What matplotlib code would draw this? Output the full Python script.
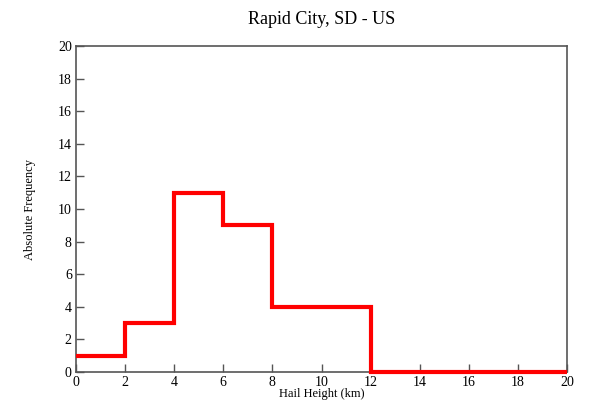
#!/usr/bin/env python3

# hail height histogram for Rapid City
#

import numpy as np
import matplotlib
matplotlib.use("Agg")
import matplotlib.pyplot as plt

plt.rcParams["font.family"] = ["Liberation Serif", "DejaVu Serif"]

bin_edges = [0, 2, 4, 6, 8, 10, 12, 14, 16, 18, 20]
counts = [1, 3, 11, 9, 4, 4, 0, 0, 0, 0]
x_ticks = list(range(0, 21, 2))
y_ticks = list(range(0, 21, 2))

fig = plt.figure(figsize=(5.89, 4.04), dpi=100)
ax = fig.add_axes([76 / 589, 1 - 372 / 404, (567 - 76) / 589, (372 - 46) / 404])

ax.stairs(counts, bin_edges, baseline=None, color="red", linewidth=3,
          clip_on=False, zorder=5)

ax.set_xlim(0, 20)
ax.set_ylim(0, 20)
ax.set_xticks(x_ticks)
ax.set_yticks(y_ticks)
ax.tick_params(direction="in", length=6, width=1, color="#555555",
               labelsize=10, top=False, right=False, pad=3)
for s in ax.spines.values():
    s.set_color("#555555")
    s.set_linewidth(1.2)

ax.set_title("Rapid City, SD - US", fontsize=13, pad=16)
ax.set_xlabel("Hail Height (km)", fontsize=9, labelpad=-1)
ax.set_ylabel("Absolute Frequency", fontsize=9, labelpad=16)

fig.savefig("out.png", dpi=100)
